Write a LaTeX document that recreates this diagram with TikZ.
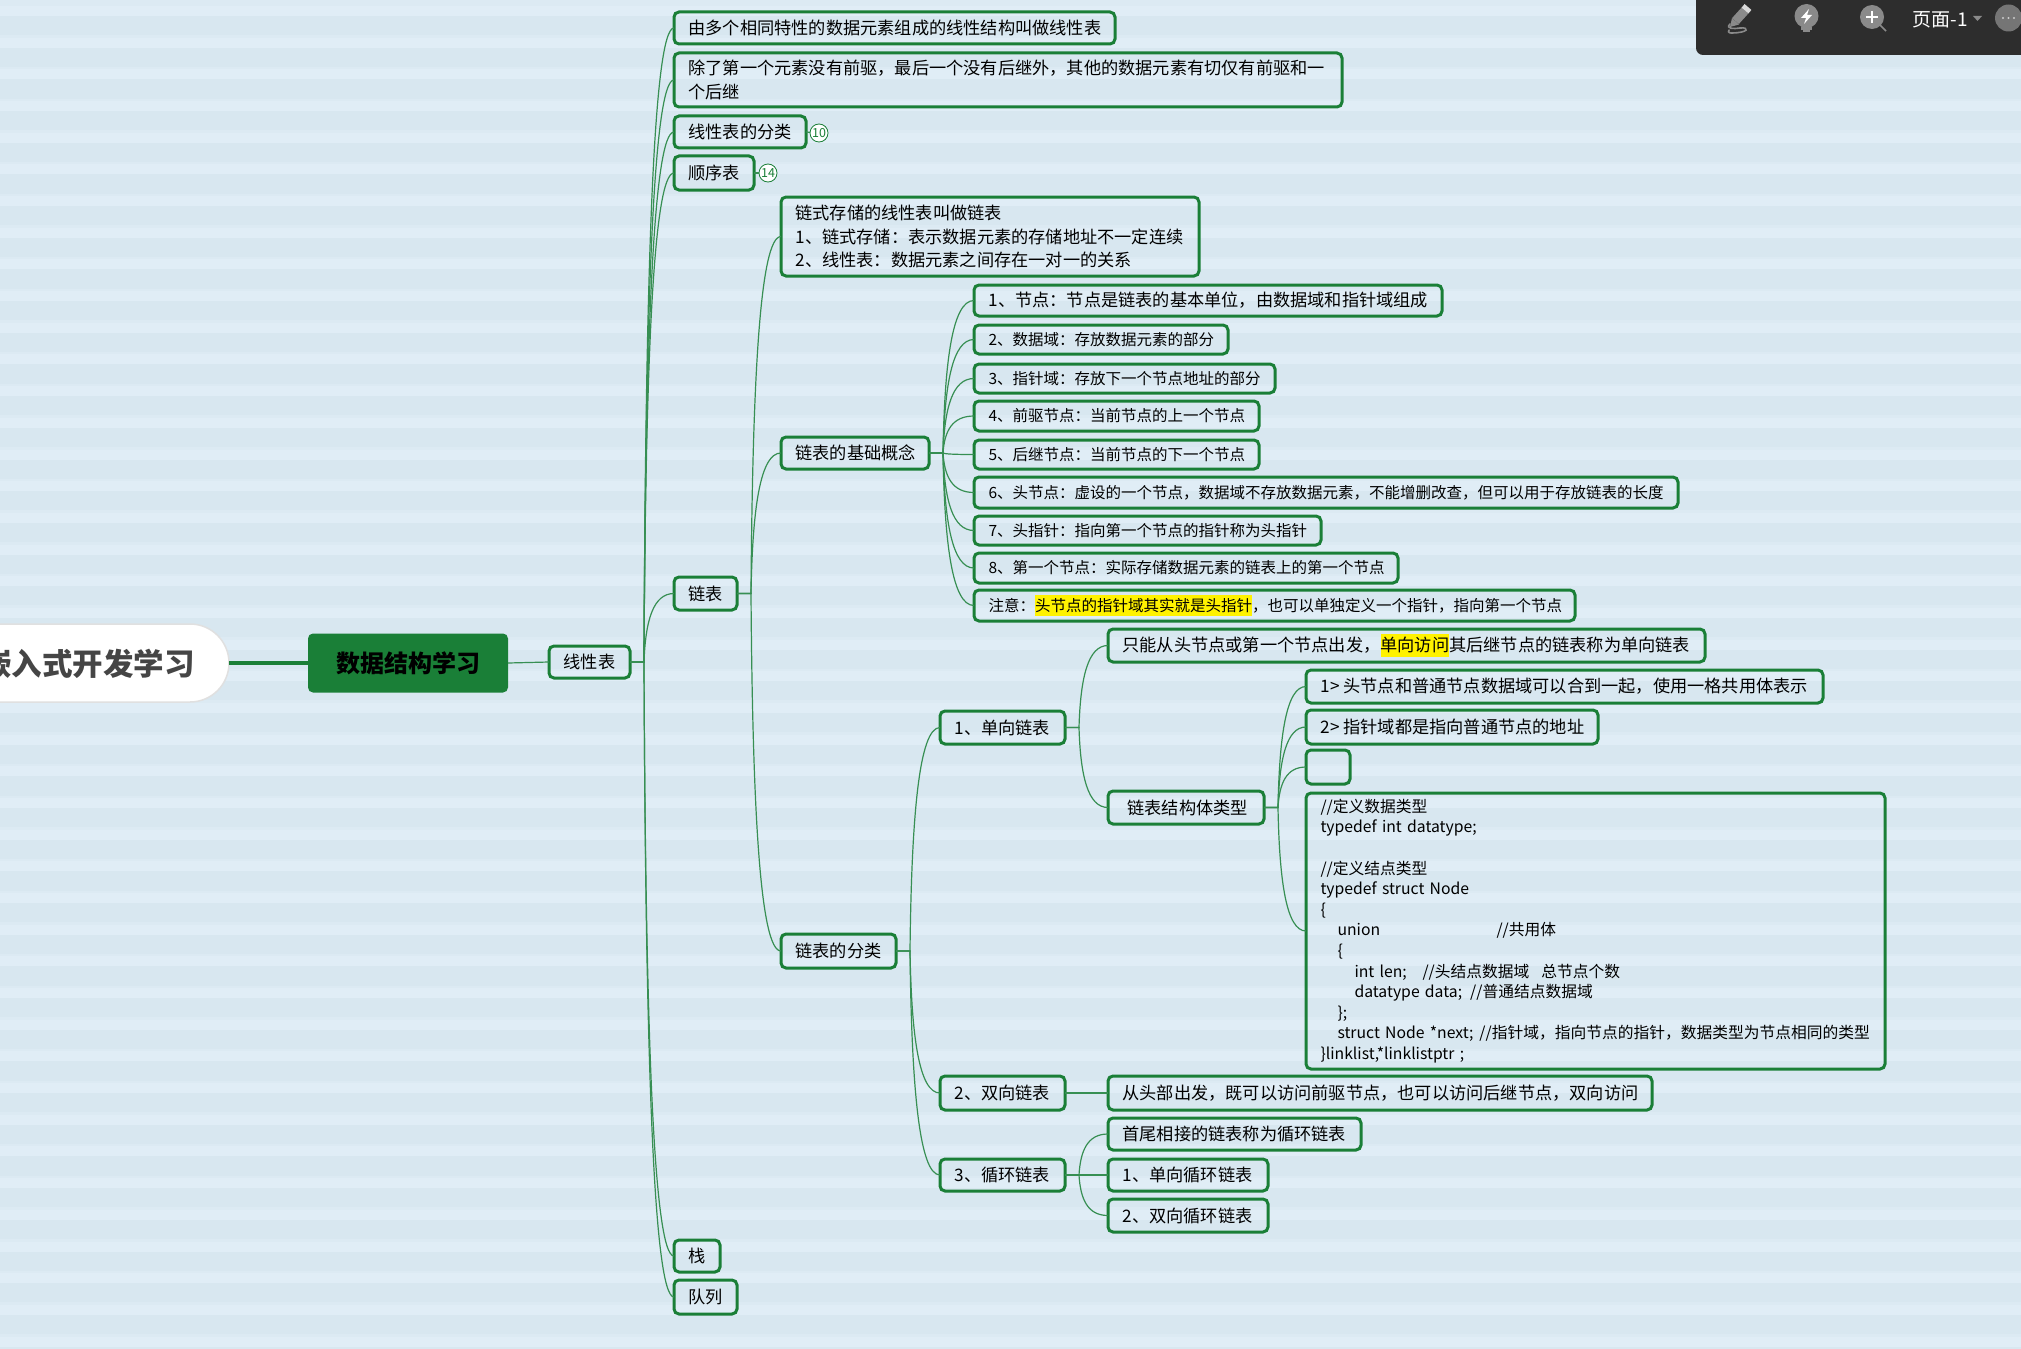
\documentclass[tikz,border=0pt]{standalone}
\usepackage{fontspec}
\setmainfont{Noto Sans CJK SC}
\usetikzlibrary{calc}
\definecolor{bgdark}{HTML}{D8E7F0}
\definecolor{bglight}{HTML}{E0EDF6}
\definecolor{bgfaint}{HTML}{DCEAF3}
\definecolor{mmgreen}{HTML}{1A7F37}
\definecolor{barbg}{HTML}{2D2D2D}
\definecolor{iconc}{HTML}{8A8A8A}
\tikzset{
  box/.style={draw=mmgreen,line width=3pt,rounded corners=5pt,inner xsep=14.5pt,inner ysep=0pt,outer sep=0pt,
    align=left,anchor=west,text=black,font=\fontsize{17.2}{23.2}\selectfont},
  small/.style={font=\fontsize{15.5}{20}\selectfont},
  codetext/.style={font=\fontsize{15.75}{20.6}\selectfont},
  badge/.style={circle,draw=mmgreen,line width=.8pt,fill=white,text=mmgreen,inner sep=0pt,minimum size=18pt,outer sep=0pt,font=\fontsize{12.5}{12.5}\selectfont},
  link/.style={mmgreen!85!bgdark,line width=1.2pt},
  branch/.style={to path={let \p1=(\tikztostart),\p2=(\tikztotarget) in
    -- (\x1+14pt,\y1) .. controls ({\x1+14pt+0.05*(\x2-\x1-14pt)},{\y1+0.6*(\y2-\y1)})
    and ({\x1+14pt+0.3*(\x2-\x1-14pt)},\y2) .. (\p2)}},
}
\newcommand\bx[7][]{%
  \pgfmathsetmacro\bxw{#4-#3-29}\pgfmathsetmacro\bxh{#6-#5}\pgfmathsetmacro\bxy{(#5+#6)/2}%
  \node[box,#1,text width=\bxw pt,minimum height=\bxh pt] (#2) at (#3,\bxy) {#7};}
\newcommand\hl[1]{{\setlength\fboxsep{0pt}\colorbox{yellow}{\rule[-0.28em]{0pt}{1.3em}#1}}}
\begin{document}
\begin{tikzpicture}[x=1pt,y=-1pt]
\useasboundingbox (0,0) rectangle (2021,1348.6);
\clip (0,0) rectangle (2021,1360);
\fill[bgdark] (0,0) rectangle (2021,1360);
\fill[bgfaint] (0,0) rectangle (2021,3);
\foreach \k in {0,...,42}{
  \pgfmathsetmacro\ya{3.5+31.68*\k}\pgfmathsetmacro\yb{6+31.68*\k}\pgfmathsetmacro\yc{16+31.68*\k}
  \fill[bgfaint] (0,\ya) rectangle (2021,\yb);
  \fill[bglight] (0,\yb) rectangle (2021,\yc);
}
% root and centre
\node[fill=white,draw=black!12,line width=1.5pt,rounded corners=39pt,minimum width=340pt,minimum height=78pt,inner sep=0pt,outer sep=0pt,anchor=east] (root) at (229,663) {};
\node[anchor=east,inner sep=0pt,text=black!73,font=\fontsize{30.5}{32}\selectfont\bfseries] (rootlabel) at (195,664) {嵌入式开发学习};
\node[fill=mmgreen,rounded corners=5pt,minimum width=200pt,minimum height=59pt,inner sep=0pt,outer sep=0pt,text=black,font=\fontsize{24}{26}\selectfont\bfseries] (centre) at (408,663) {数据结构学习};
% first level
\bx[align=center]{xian}{549}{630}{646}{678}{线性表}
\bx{a1}{674}{1115}{12}{44}{由多个相同特性的数据元素组成的线性结构叫做线性表}
\bx{a2}{674}{1342}{53}{107}{除了第一个元素没有前驱，最后一个没有后继外，其他的数据元素有切仅有前驱和一\\个后继}
\bx{a3}{674}{806}{116}{148}{线性表的分类}
\bx{a4}{674}{754}{156}{190}{顺序表}
\bx{a5}{674}{737}{577}{610}{链表}
\bx{a6}{674}{720}{1240}{1272}{栈}
\bx{a7}{674}{737}{1280}{1314}{队列}
\node[badge] (b10) at (819,133) {10};
\node[badge] (b14) at (768,173) {14};
% linked list
\bx{c1}{781}{1199}{197}{276}{链式存储的线性表叫做链表\\1、链式存储：表示数据元素的存储地址不一定连续\\2、线性表：数据元素之间存在一对一的关系}
\bx{c2}{781}{929}{437}{469}{链表的基础概念}
\bx{c3}{781}{896}{934}{968}{链表的分类}
% concepts
\bx{d1}{974}{1442}{285}{316}{1、节点：节点是链表的基本单位，由数据域和指针域组成}
\bx[small]{d2}{974}{1228}{325}{354}{2、数据域：存放数据元素的部分}
\bx[small]{d3}{974}{1275}{364}{393}{3、指针域：存放下一个节点地址的部分}
\bx[small]{d4}{974}{1259}{401}{431}{4、前驱节点：当前节点的上一个节点}
\bx[small]{d5}{974}{1259}{440}{469}{5、后继节点：当前节点的下一个节点}
\bx[small]{d6}{974}{1678}{477}{508}{6、头节点：虚设的一个节点，数据域不存放数据元素，不能增删改查，但可以用于存放链表的长度}
\bx[small]{d7}{974}{1321}{516}{545}{7、头指针：指向第一个节点的指针称为头指针}
\bx[small]{d8}{974}{1398}{553}{583}{8、第一个节点：实际存储数据元素的链表上的第一个节点}
\bx[small]{d9}{974}{1575}{590}{621}{注意：\hl{头节点的指针域其实就是头指针}，也可以单独定义一个指针，指向第一个节点}
% classification
\bx{e1}{940}{1065}{711}{744}{1、单向链表}
\bx{e2}{940}{1065}{1076}{1110}{2、双向链表}
\bx{e3}{940}{1065}{1159}{1191}{3、循环链表}
\bx{f1}{1108}{1705}{629}{662}{只能从头节点或第一个节点出发，\hl{单向访问}其后继节点的链表称为单向链表}
\bx{f2}{1108}{1264}{791}{824}{\hspace*{5pt}链表结构体类型}
\bx{f3}{1108}{1652}{1076}{1110}{从头部出发，既可以访问前驱节点，也可以访问后继节点，双向访问}
\bx{f4}{1108}{1361}{1118}{1150}{首尾相接的链表称为循环链表}
\bx{f5}{1108}{1268}{1159}{1191}{1、单向循环链表}
\bx{f6}{1108}{1268}{1199}{1232}{2、双向循环链表}
\bx{g1}{1306}{1823}{670}{703}{1>\kern4pt 头节点和普通节点数据域可以合到一起，使用一格共用体表示}
\bx{g2}{1306}{1598}{710}{744}{2>\kern4pt 指针域都是指向普通节点的地址}
\bx{g3}{1306}{1350}{750}{784}{}
\bx[codetext]{g4}{1306}{1885}{793}{1069}{//定义数据类型\\
typedef int datatype;\\
\mbox{}\\
//定义结点类型\\
typedef struct Node\\
\{\\
\hspace*{17pt}\makebox[159pt][l]{union}//共用体\\
\hspace*{17pt}\{\\
\hspace*{34pt}\makebox[68pt][l]{int len;}//头结点数据域\hspace{12pt}总节点个数\\
\hspace*{34pt}datatype data;\hspace{8pt}//普通结点数据域\\
\hspace*{17pt}\};\\
\hspace*{17pt}struct Node *next;\hspace{6pt}//指针域，指向节点的指针，数据类型为节点相同的类型\\
\}linklist,*linklistptr ;}
% connectors
\draw[mmgreen,line width=4pt] (root.east) -- (centre.west);
\draw[link] (centre.east) -- (xian.west);
\foreach \t in {a1,a2,a3,a4,a5,a6,a7}{\draw[link] (xian.east) to[branch] (\t.west);}
\draw[link] (a3.east) -- (b10);
\draw[link] (a4.east) -- (b14);
\foreach \t in {c1,c2,c3}{\draw[link] (a5.east) to[branch] (\t.west);}
\foreach \t in {d1,d2,d3,d4,d5,d6,d7,d8,d9}{\draw[link] (c2.east) to[branch] (\t.west);}
\foreach \t in {e1,e2,e3}{\draw[link] (c3.east) to[branch] (\t.west);}
\foreach \t in {f1,f2}{\draw[link] (e1.east) to[branch] (\t.west);}
\draw[link] (e2.east) -- (f3.west);
\foreach \t in {f4,f5,f6}{\draw[link] (e3.east) to[branch] (\t.west);}
\foreach \t in {g1,g2,g3,g4}{\draw[link] (f2.east) to[branch] (\t.west);}
% toolbar
\fill[barbg,rounded corners=7pt] (1696,-20) rectangle (2040,55);
\draw[iconc,line width=9pt] (1745,10.5) -- (1735.5,21);
\fill[iconc] (1732,18) -- (1739,24.5) -- (1730,27) -- cycle;
\draw[white!85!black,line width=9pt] (1748,7) -- (1745,10.5);
\draw[iconc,line width=1.6pt,line cap=round] (1730,24) .. controls (1725,29) and (1734,29) .. (1740,28) .. controls (1750,27) and (1749,33) .. (1731,33) .. controls (1728,33) and (1728,31) .. (1729,30);
\fill[iconc] (1806.5,16) circle (12pt);
\fill[iconc] (1801,27) rectangle (1812,30);
\fill[iconc] (1803,30.5) rectangle (1810,32.5);
\fill[white] (1809,9) -- (1801,18) -- (1806,18) -- (1804,24) -- (1812,15) -- (1807,15) -- cycle;
\fill[iconc] (1872,17) circle (12pt);
\draw[white,line width=2pt] (1866,17) -- (1878,17) (1872,11) -- (1872,23);
\draw[iconc,line width=1.5pt] (1880,25) -- (1886,31);
\node[text=white,inner sep=0pt,font=\fontsize{19}{21}\selectfont] (pagelabel) at (1940,20) {页面-1};
\fill[iconc] (1973,16) -- (1982,16) -- (1977.5,21) -- cycle;
\fill[iconc!85!black] (2008.5,18) circle (13.5pt);
\fill[white!80!black] (2003,18) circle (1.2pt) (2008.5,18) circle (1.2pt) (2014,18) circle (1.2pt);
\end{tikzpicture}
\end{document}
